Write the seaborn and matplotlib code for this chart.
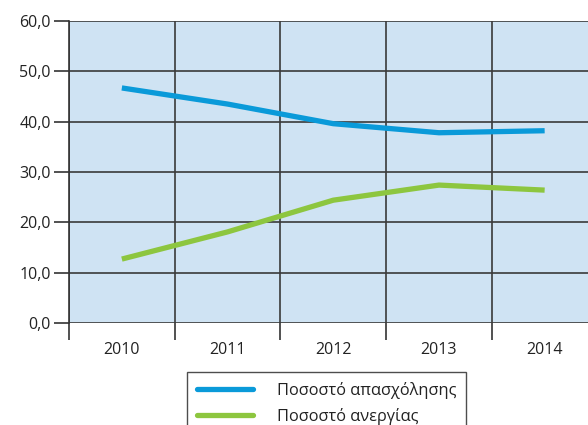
import matplotlib
matplotlib.use("Agg")
import matplotlib.pyplot as plt
import seaborn as sns
import pandas as pd
import numpy as np
from matplotlib.lines import Line2D

years = ["2010", "2011", "2012", "2013", "2014"]
employment = [46.7, 43.5, 39.6, 37.8, 38.2]
unemployment = [12.7, 18.1, 24.4, 27.4, 26.4]
series_names = ["Ποσοστό απασχόλησης", "Ποσοστό ανεργίας"]
y_ticks = [0, 10, 20, 30, 40, 50, 60]
y_tick_labels = ["0,0", "10,0", "20,0", "30,0", "40,0", "50,0", "60,0"]

sns.set_style("white")
plt.rcParams['font.family'] = ['Open Sans', 'DejaVu Sans']

df = pd.DataFrame({
    "idx": list(range(len(years))) * 2,
    "value": employment + unemployment,
    "series": [series_names[0]] * len(years) + [series_names[1]] * len(years),
})

fig = plt.figure(figsize=(5.88, 4.25), dpi=100)
ax = fig.add_axes([69 / 588, 1 - 323 / 425, 1 - 69 / 588, (323 - 21) / 425])
ax.set_facecolor("#cfe3f3")

palette = {series_names[0]: "#0a9ad9", series_names[1]: "#8dc63f"}
sns.lineplot(data=df, x="idx", y="value", hue="series", palette=palette,
             linewidth=3.8, ax=ax, legend=False, solid_capstyle="butt")

ax.set_yticks(y_ticks)
ax.set_yticklabels(y_tick_labels)
ax.set_xticks(range(len(years)))
ax.set_xticklabels(years)
ax.set_xticks(np.arange(-0.5, len(years), 1.0), minor=True)
ax.set_xlim(-0.5, -0.5 + 519 / 105.7)
ax.set_ylim(0, 60)
ax.set_xlabel("")
ax.set_ylabel("")

for s in ["top", "right", "bottom"]:
    ax.spines[s].set_visible(False)
ax.spines["left"].set_color("#333333")
ax.spines["left"].set_linewidth(1.2)

ax.grid(True, axis="y", which="major", color="#3a3a3a", linewidth=1.2)
ax.grid(True, axis="x", which="minor", color="#3a3a3a", linewidth=1.2)
ax.grid(False, axis="x", which="major")
ax.set_axisbelow(True)

ax.tick_params(axis="y", which="major", length=11, width=1.2, color="#333333",
               labelsize=11.5, labelcolor="#222222", pad=2, left=True)
ax.tick_params(axis="x", which="major", length=0, labelsize=11.5, labelcolor="#222222", pad=14)
ax.tick_params(axis="x", which="minor", length=12, width=1.2, color="#333333", bottom=True)

handles = [Line2D([0], [0], color=palette[n], linewidth=3.8) for n in series_names]
leg = fig.legend(handles, series_names, loc="upper left",
                 bbox_to_anchor=(187 / 588, 1 - 372 / 425),
                 frameon=True, fancybox=False, edgecolor="#222222",
                 fontsize=11.8, handlelength=3.4, handletextpad=1.5,
                 borderpad=0.6, labelspacing=0.55, borderaxespad=0)
leg.get_frame().set_linewidth(1.0)
for t in leg.get_texts():
    t.set_color("#222222")

fig.savefig("out.png", dpi=100)
